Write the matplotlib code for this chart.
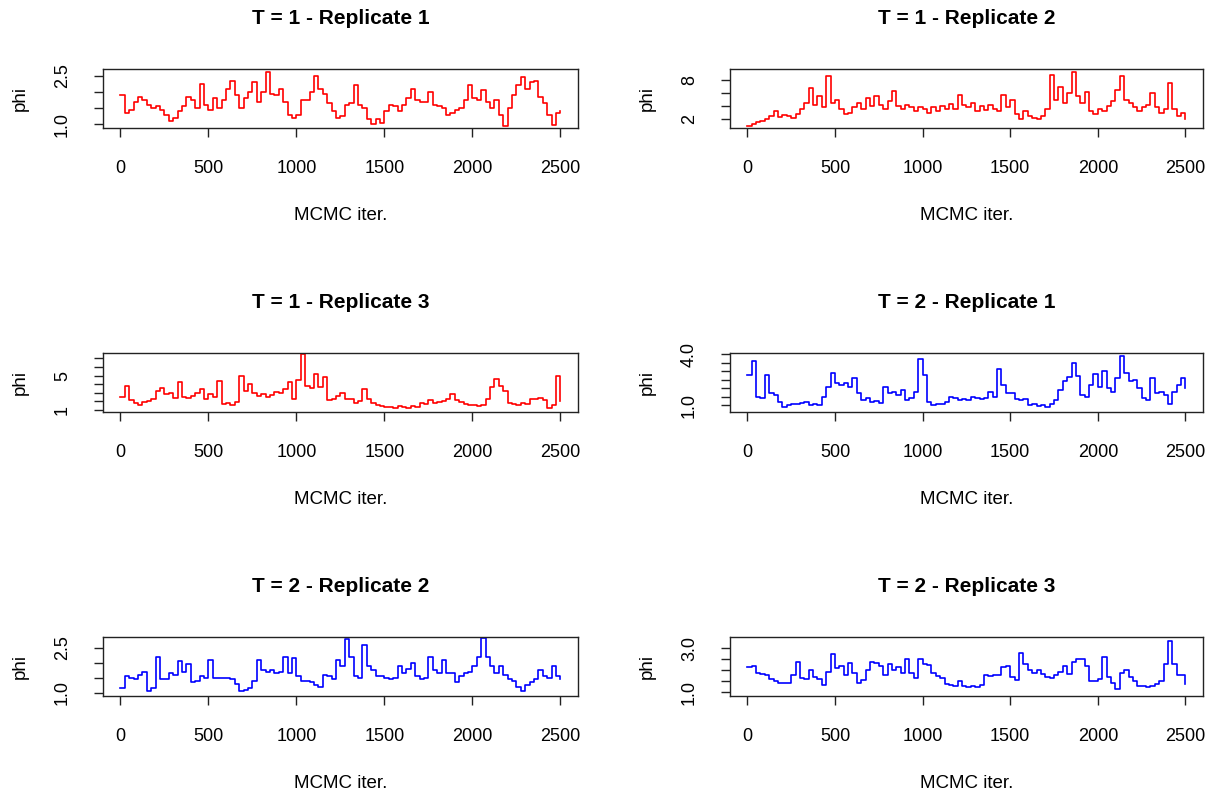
import matplotlib
matplotlib.use("Agg")
import matplotlib.pyplot as plt

plt.rcParams['font.family'] = ['Liberation Sans', 'DejaVu Sans']

# MCMC iteration grid (values read every 25 iterations)
iters = list(range(0, 2501, 25))

t1_rep1 = [1.9, 1.35, 1.45, 1.7, 1.85, 1.75, 1.6, 1.5, 1.55, 1.45,
           1.3, 1.1, 1.2, 1.4, 1.55, 1.85, 1.75, 1.5, 2.25, 1.6,
           1.45, 1.8, 1.5, 1.75, 2.1, 2.35, 1.9, 1.5, 1.8, 2.0,
           2.3, 1.7, 2.0, 2.6, 1.95, 1.9, 2.1, 1.7, 1.3, 1.2,
           1.3, 1.75, 1.75, 2.0, 2.5, 2.1, 1.95, 1.65, 1.4, 1.2,
           1.25, 1.6, 1.65, 2.2, 1.6, 1.5, 1.15, 1.0, 1.15, 1.05,
           1.4, 1.6, 1.55, 1.4, 1.6, 1.8, 2.1, 1.75, 1.7, 1.7,
           2.0, 1.6, 1.55, 1.5, 1.3, 1.35, 1.45, 1.5, 1.75, 2.2,
           1.8, 1.75, 2.05, 1.7, 1.5, 1.75, 1.3, 0.95, 1.5, 1.9,
           2.2, 2.45, 2.1, 2.3, 2.35, 1.85, 1.65, 1.3, 0.98, 1.35,
           1.4]

t1_rep2 = [0.9, 1.2, 1.5, 1.7, 2.0, 2.4, 3.2, 2.3, 2.6, 2.5,
           2.2, 2.8, 3.5, 4.5, 6.8, 4.2, 5.5, 3.8, 8.7, 4.5,
           5.0, 3.5, 2.8, 3.0, 3.8, 4.5, 3.6, 5.2, 4.0, 5.5,
           4.2, 3.6, 4.8, 6.3, 4.0, 3.5, 4.2, 3.8, 3.2, 3.8,
           3.6, 3.0, 3.8, 3.2, 4.0, 3.5, 4.3, 3.6, 5.8, 4.2,
           3.8, 4.5, 3.2, 4.0, 3.4, 4.2, 3.6, 3.2, 5.8, 3.8,
           5.0, 2.8, 2.0, 3.2, 2.5, 2.2, 2.0, 2.5, 3.5, 8.9,
           5.0, 7.0, 4.5, 6.0, 9.3, 5.5, 4.5, 6.2, 3.2, 2.8,
           3.5, 3.2, 4.0, 4.8, 6.5, 8.6, 5.0, 4.5, 3.8, 3.2,
           3.8, 4.2, 6.0, 3.8, 3.0, 3.5, 7.6, 3.5, 2.5, 3.0,
           2.0]

t1_rep3 = [2.5, 3.8, 2.1, 1.8, 1.5, 1.9, 2.0, 2.2, 3.2, 3.5,
           2.8, 3.0, 2.4, 4.2, 2.5, 2.4, 2.6, 2.9, 3.4, 2.3,
           2.8, 2.5, 4.4, 1.7, 1.8, 1.6, 1.9, 5.0, 3.2, 4.0,
           2.9, 2.6, 2.8, 2.5, 2.7, 3.1, 2.9, 3.4, 4.2, 2.2,
           4.5, 7.5, 3.8, 3.5, 5.2, 3.6, 4.8, 2.1, 2.3, 2.6,
           2.9, 2.3, 2.2, 1.8, 2.0, 3.4, 2.2, 1.8, 1.6, 1.4,
           1.3, 1.3, 1.2, 1.4, 1.3, 1.2, 1.4, 1.3, 1.8, 1.7,
           2.1, 1.8, 1.9, 2.0, 2.3, 2.8, 2.1, 1.9, 1.7, 1.6,
           1.5, 1.4, 1.6, 2.2, 3.6, 4.6, 3.8, 3.2, 1.8, 1.7,
           1.6, 1.8, 1.7, 2.3, 2.2, 2.4, 2.1, 1.2, 1.6, 5.0,
           2.0]

t2_rep1 = [2.75, 3.6, 1.5, 1.4, 2.8, 1.7, 1.6, 1.2, 0.9, 1.0,
           1.1, 1.1, 1.15, 1.2, 1.0, 1.05, 1.0, 1.5, 2.1, 2.9,
           2.3, 2.2, 2.3, 2.1, 2.6, 1.7, 1.3, 1.4, 1.2, 1.25,
           1.15, 2.05, 1.7, 1.8, 1.6, 1.9, 1.3, 1.4, 1.8, 3.7,
           2.8, 1.2, 1.0, 1.1, 1.05, 1.2, 1.5, 1.4, 1.3, 1.35,
           1.3, 1.5, 1.4, 1.35, 1.4, 1.8, 1.5, 3.1, 2.2, 1.7,
           1.7, 1.35, 1.3, 1.35, 1.0, 1.05, 0.95, 1.0, 0.9, 1.1,
           1.3, 1.9, 2.4, 2.65, 3.5, 2.7, 1.6, 1.5, 2.2, 2.85,
           2.1, 3.0, 2.0, 1.8, 2.6, 3.9, 2.9, 2.4, 2.5, 2.0,
           1.4, 1.3, 2.6, 1.7, 1.8, 1.6, 1.1, 1.8, 2.2, 2.6,
           2.0]

t2_rep2 = [1.15, 1.55, 1.5, 1.45, 1.6, 1.7, 1.05, 1.15, 2.2, 1.45,
           1.45, 1.65, 1.6, 2.05, 1.7, 1.95, 1.35, 1.4, 1.55, 1.5,
           2.1, 1.5, 1.5, 1.5, 1.5, 1.45, 1.3, 1.05, 1.1, 1.15,
           1.4, 2.1, 1.75, 1.7, 1.75, 1.65, 1.7, 2.2, 1.65, 2.15,
           1.55, 1.4, 1.4, 1.35, 1.25, 1.2, 1.6, 1.55, 1.45, 2.1,
           1.9, 2.8, 2.2, 1.55, 1.5, 2.6, 1.9, 1.75, 1.55, 1.55,
           1.5, 1.45, 1.5, 1.9, 1.65, 1.8, 2.0, 1.55, 1.45, 1.5,
           2.2, 1.75, 1.65, 2.1, 1.65, 1.65, 1.35, 1.55, 1.65, 1.7,
           1.9, 2.2, 2.83, 2.2, 1.9, 1.65, 1.9, 1.6, 1.45, 1.4,
           1.2, 1.05, 1.25, 1.35, 1.45, 1.75, 1.55, 1.5, 1.9, 1.55,
           1.45]

t2_rep3 = [2.15, 2.2, 1.9, 1.85, 1.8, 1.6, 1.5, 1.45, 1.45, 1.45,
           1.8, 2.4, 1.65, 1.6, 2.0, 1.7, 1.6, 1.35, 1.95, 2.75,
           2.1, 2.2, 1.8, 2.35, 1.9, 1.45, 1.55, 2.0, 2.4, 2.35,
           2.2, 1.8, 2.3, 2.0, 2.15, 1.9, 2.5, 1.9, 1.65, 2.5,
           2.3, 2.25, 1.9, 1.75, 1.65, 1.4, 1.35, 1.3, 1.5, 1.3,
           1.25, 1.3, 1.25, 1.35, 1.8, 1.75, 1.8, 1.8, 2.15, 2.2,
           1.7, 1.55, 2.8, 2.3, 2.0, 1.9, 2.0, 1.85, 1.7, 1.65,
           1.8, 1.95, 2.2, 1.85, 2.4, 2.5, 2.5, 2.2, 1.5, 1.5,
           1.6, 2.6, 1.7, 1.45, 1.15, 1.9, 2.0, 1.7, 1.5, 1.3,
           1.3, 1.25, 1.3, 1.4, 1.5, 2.3, 3.35, 2.3, 1.8, 1.8,
           1.4]

titles = ["T = 1 - Replicate 1", "T = 1 - Replicate 2", "T = 1 - Replicate 3",
          "T = 2 - Replicate 1", "T = 2 - Replicate 2", "T = 2 - Replicate 3"]
series = [t1_rep1, t1_rep2, t1_rep3, t2_rep1, t2_rep2, t2_rep3]
colors = ["#FF0000", "#FF0000", "#FF0000", "#0000FF", "#0000FF", "#0000FF"]

x_ticks = [0, 500, 1000, 1500, 2000, 2500]
y_ticks = [[1.0, 1.5, 2.0, 2.5], [2, 4, 6, 8], [1, 2, 3, 4, 5, 6, 7],
           [1.0, 1.5, 2.0, 2.5, 3.0, 3.5, 4.0], [1.0, 1.5, 2.0, 2.5],
           [1.0, 1.5, 2.0, 2.5, 3.0]]
y_labels = [["1.0", "", "", "2.5"], ["2", "", "", "8"],
            ["1", "", "", "", "5", "", ""],
            ["1.0", "", "", "", "", "", "4.0"], ["1.0", "", "", "2.5"],
            ["1.0", "", "", "", "3.0"]]
y_lims = [(0.886, 2.707), (0.60, 9.76), (0.73, 7.64), (0.61, 4.06),
          (0.89, 2.87), (0.84, 3.52)]

W, H = 1224, 800
fig = plt.figure(figsize=(W / 100, H / 100), dpi=100)

col_px = [(103, 578), (730, 1203)]
row_px = [(69, 128), (353, 412), (637, 696)]

for i in range(6):
    r, c = i // 2, i % 2
    l, rgt = col_px[c]
    t, b = row_px[r]
    ax = fig.add_axes([l / W, 1 - b / H, (rgt - l) / W, (b - t) / H])
    ax.plot(iters, series[i], color=colors[i], lw=1.2, drawstyle='steps-post')
    ax.set_xlim(-99, 2600)
    ax.set_ylim(*y_lims[i])
    ax.set_xticks(x_ticks)
    ax.set_xticklabels([str(v) for v in x_ticks])
    ax.set_yticks(y_ticks[i])
    ax.set_yticklabels(y_labels[i])
    for s in ax.spines.values():
        s.set_color("#222222")
        s.set_linewidth(1.0)
    ax.tick_params(axis='both', direction='out', length=6.5, width=1.0,
                   color="#222222", labelsize=13, pad=16.5)
    ax.tick_params(axis='y', labelrotation=90)
    for lab in ax.get_yticklabels():
        lab.set_va('center')
    hax = b - t
    wax = rgt - l
    ax.set_title(titles[i], fontsize=15, fontweight='bold',
                 y=1 + 51 / hax, va='center', pad=0)
    ax.set_xlabel("MCMC iter.", fontsize=13.5, va='center')
    ax.xaxis.set_label_coords(0.5, -87 / hax)
    ax.set_ylabel("phi", fontsize=13.5, va='center')
    ax.yaxis.set_label_coords(-83 / wax, 0.5)

fig.savefig("out.png", dpi=100)
